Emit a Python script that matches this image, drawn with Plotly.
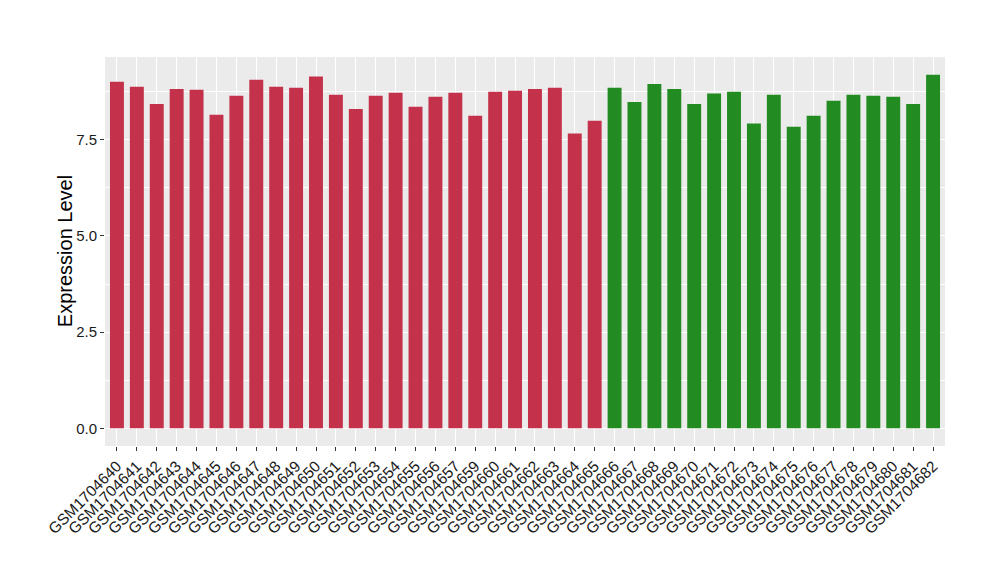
"""
Bar chart of expression level per GSM sample, ggplot-like look.
"""
import plotly.graph_objects as go

samples_a = [
    "GSM1704640", "GSM1704641", "GSM1704642", "GSM1704643", "GSM1704644",
    "GSM1704645", "GSM1704646", "GSM1704647", "GSM1704648", "GSM1704649",
    "GSM1704650", "GSM1704651", "GSM1704652", "GSM1704653", "GSM1704654",
    "GSM1704655", "GSM1704656", "GSM1704657", "GSM1704659", "GSM1704660",
    "GSM1704661", "GSM1704662", "GSM1704663", "GSM1704664", "GSM1704665",
]
values_a = [
    9.01, 8.88, 8.43, 8.82, 8.80,
    8.15, 8.64, 9.06, 8.88, 8.85,
    9.14, 8.67, 8.30, 8.64, 8.72,
    8.36, 8.62, 8.72, 8.12, 8.75,
    8.77, 8.82, 8.85, 7.66, 7.99,
]
samples_b = [
    "GSM1704666", "GSM1704667", "GSM1704668", "GSM1704669", "GSM1704670",
    "GSM1704671", "GSM1704672", "GSM1704673", "GSM1704674", "GSM1704675",
    "GSM1704676", "GSM1704677", "GSM1704678", "GSM1704679", "GSM1704680",
    "GSM1704681", "GSM1704682",
]
values_b = [
    8.85, 8.48, 8.95, 8.82, 8.43,
    8.70, 8.75, 7.92, 8.67, 7.84,
    8.12, 8.51, 8.67, 8.64, 8.62,
    8.43, 9.19,
]
y_ticks = [0.0, 2.5, 5.0, 7.5]
y_tick_text = ["0.0", "2.5", "5.0", "7.5"]

RED = "#C3314A"
GREEN = "#228B22"
PANEL = "#EBEBEB"

fig = go.Figure()
fig.add_trace(go.Bar(x=samples_a, y=values_a, marker_color=RED,
                     marker_line_width=0, showlegend=False))
fig.add_trace(go.Bar(x=samples_b, y=values_b, marker_color=GREEN,
                     marker_line_width=0, showlegend=False))

# page body adds an 8px offset, so margins are trimmed to land the panel
# where the reference has it
n = len(samples_a) + len(samples_b)
fig.update_layout(
    width=1000, height=580,
    margin=dict(l=97, r=63, t=49, b=142),
    paper_bgcolor="white",
    plot_bgcolor=PANEL,
    bargap=0.3,
    font=dict(family="Liberation Sans, Arial, sans-serif", size=15, color="#1a1a1a"),
)
fig.update_xaxes(
    type="category",
    range=[-0.6, n - 1 + 0.6],
    tickangle=-45,
    ticks="outside", ticklen=4, tickcolor="#333333", tickwidth=1,
    showgrid=True, gridcolor="white", gridwidth=1.2,
    zeroline=False, showline=False, automargin=False,
    tickfont=dict(size=15.5, color="#1a1a1a"),
)
fig.update_yaxes(
    range=[-0.46, 9.65],
    tickvals=y_ticks, ticktext=y_tick_text,
    ticks="outside", ticklen=4, tickcolor="#333333", tickwidth=1,
    showgrid=True, gridcolor="white", gridwidth=1.2,
    minor=dict(dtick=1.25, tick0=0, showgrid=True, gridcolor="white",
               gridwidth=0.6, ticks=""),
    zeroline=False, showline=False, automargin=False,
    tickfont=dict(size=15, color="#1a1a1a"),
)
# y title placed as an annotation so it sits where ggplot put it
fig.add_annotation(
    text="Expression Level", textangle=-90,
    xref="paper", yref="paper", x=-0.048, y=0.5,
    xanchor="center", yanchor="middle", showarrow=False,
    font=dict(size=20, color="black"),
)

fig.write_html("out.html")
